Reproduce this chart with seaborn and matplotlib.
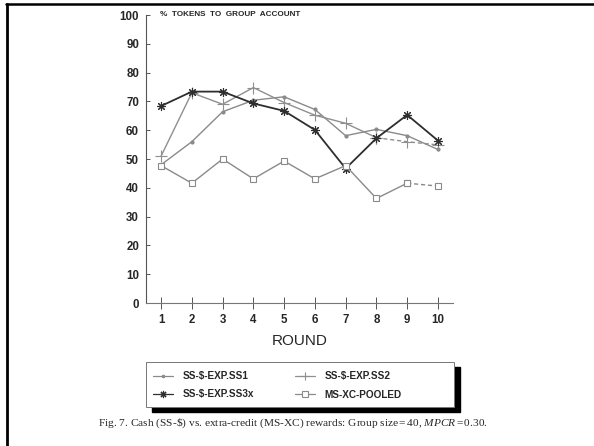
import matplotlib
matplotlib.use("Agg")
import matplotlib.pyplot as plt
from matplotlib.lines import Line2D
from matplotlib.patches import Rectangle
import seaborn as sns

# Percentage of tokens contributed to the group account, per round
rounds = [1, 2, 3, 4, 5, 6, 7, 8, 9, 10]
ss1 = [48.0, 56.0, 66.4, 70.4, 71.6, 67.2, 58.1, 60.3, 58.1, 53.3]
ss2 = [51.0, 73.0, 69.0, 74.8, 69.6, 65.2, 62.4, 57.4, 56.0, 54.9]
ss3x = [68.4, 73.4, 73.4, 69.3, 66.7, 60.1, 46.7, 57.2, 65.3, 56.4]
msxc = [47.7, 41.6, 50.0, 43.1, 49.3, 43.1, 47.7, 36.3, 41.6, 40.6]
labels = ["SS-$-EXP.SS1", "SS-$-EXP.SS2", "SS-$-EXP.SS3x", "MS-XC-POOLED"]
yticks = [0, 10, 20, 30, 40, 50, 60, 70, 80, 90, 100]

W, H = 594, 446
sns.set_theme(style="ticks")
plt.rcParams["font.family"] = ["Liberation Sans", "DejaVu Sans"]
plt.rcParams["mathtext.fontset"] = "custom"
plt.rcParams["mathtext.rm"] = "Liberation Serif"
plt.rcParams["mathtext.it"] = "Liberation Serif:italic"

fig = plt.figure(figsize=(W / 100, H / 100), dpi=100)
fig.patch.set_facecolor("white")
ax = fig.add_axes([146 / W, 1 - 303 / H, (453 - 146) / W, (303 - 15) / H])
ax.set_facecolor("white")

styles = [
    # values, label, color, marker, size, dashed tail start
    (ss1, labels[0], "#8a8a8a", "o", 2.2, None),
    (ss2, labels[1], "#8f8f8f", "+", 8, 7),
    (ss3x, labels[2], "#2e2e2e", (8, 2, 0), 6.5, None),
    (msxc, labels[3], "#8a8a8a", "s", 5, 8),
]

handles = {}
for vals, lab, col, mk, ms, tail in styles:
    kw = dict(color=col, marker=mk, markersize=ms, markeredgecolor=col,
              markeredgewidth=0.8, linewidth=1.0 if col != "#2e2e2e" else 1.3,
              ax=ax, legend=False)
    if mk == "s":
        kw["markerfacecolor"] = "white"
    if tail is None:
        sns.lineplot(x=rounds, y=vals, **kw)
    else:
        sns.lineplot(x=rounds[:tail + 1], y=vals[:tail + 1], **kw)
        sns.lineplot(x=rounds[tail:], y=vals[tail:], linestyle=(0, (3, 2)), **kw)
    handles[lab] = Line2D([], [], color=col, marker=mk, markersize=ms * 0.8,
                          markeredgecolor=col, markeredgewidth=0.8,
                          markerfacecolor="white" if mk == "s" else col,
                          linewidth=0.9, label=lab)

ax.set_xlim(0.51, 10.49)
ax.set_ylim(0, 100)
ax.set_xticks(rounds)
ax.set_yticks(yticks)
ax.tick_params(axis="y", direction="in", length=3, width=0.7, color="#555555",
               labelsize=8.3, pad=5)
ax.tick_params(axis="x", direction="inout", length=8, width=0.7, color="#555555",
               labelsize=8.3, pad=4)
for lbl in ax.get_xticklabels() + ax.get_yticklabels():
    lbl.set_fontweight("bold")
sns.despine(ax=ax)
ax.spines["left"].set_color("#555555")
ax.spines["left"].set_linewidth(0.8)
ax.spines["bottom"].set_color("#777777")
ax.spines["bottom"].set_linewidth(0.8)
ax.set_xlabel("ROUND", fontsize=11, labelpad=6)
ax.set_ylabel("")

ax.text(0.045, 100, "%  TOKENS  TO  GROUP  ACCOUNT", transform=ax.get_yaxis_transform(),
        fontsize=5.9, fontweight="bold", va="center", ha="left")

# legend box with a solid drop shadow
lx0, lx1, ly0, ly1 = 146, 454, 362, 407
fig.add_artist(Rectangle(((lx0 + 6) / W, 1 - (ly1 + 5) / H), (lx1 - lx0) / W,
                         (ly1 - ly0) / H, transform=fig.transFigure,
                         facecolor="black", edgecolor="black", zorder=1))
fig.add_artist(Rectangle((lx0 / W, 1 - ly1 / H), (lx1 - lx0) / W,
                         (ly1 - ly0) / H, transform=fig.transFigure,
                         facecolor="white", edgecolor="#777777", linewidth=0.7,
                         zorder=2))
order = [labels[0], labels[2], labels[1], labels[3]]
leg = fig.legend(handles=[handles[k] for k in order], ncol=2, loc="upper left",
                 bbox_to_anchor=(153 / W, 1 - 371 / H), borderaxespad=0,
                 borderpad=0, frameon=False, handlelength=2.0,
                 handletextpad=1.0, columnspacing=4.0, labelspacing=0.85,
                 prop={"size": 7.2, "weight": "bold"})
leg.set_zorder(3)

fig.text(293 / W, 1 - 423 / H,
         r"Fig. 7. Cash (SS-\$) vs. extra-credit (MS-XC) rewards: Group size$\,$=$\,$40, $MPCR$$\,$=$\,$0.30.",
         family="Liberation Serif", fontsize=8.2, ha="center", va="center")

# page frame edges
fig.add_artist(Line2D([6 / W, 1], [1 - 4 / H, 1 - 4 / H], transform=fig.transFigure,
                      color="black", linewidth=1.8))
fig.add_artist(Line2D([7 / W, 7 / W], [1 - 4 / H, 0], transform=fig.transFigure,
                      color="black", linewidth=2.0))

fig.savefig("out.png", dpi=100, facecolor="white")
